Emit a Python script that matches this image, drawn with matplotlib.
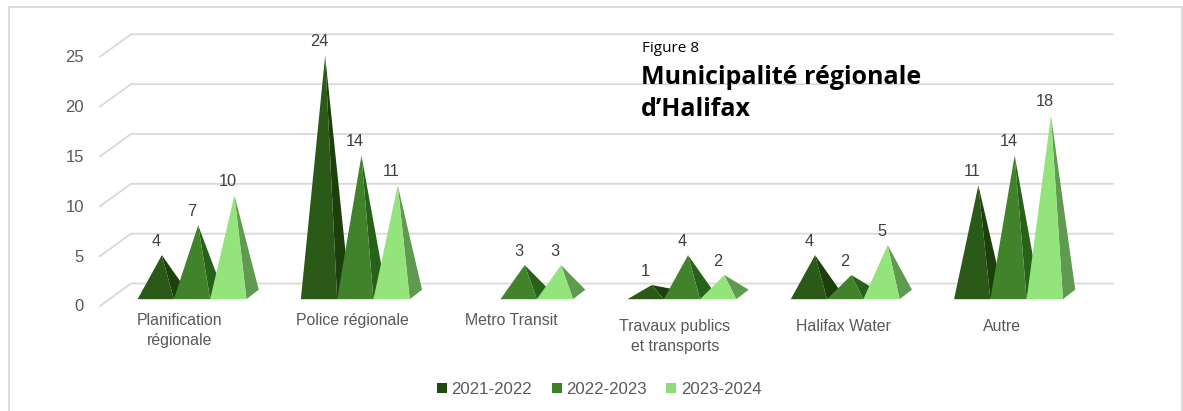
import numpy as np
import matplotlib.pyplot as plt
from matplotlib.patches import Polygon, Rectangle

plt.rcParams["font.family"] = ["Liberation Sans", "DejaVu Sans"]

# Donnees
categories = ["Planification\nrégionale", "Police régionale", "Metro Transit",
              "Travaux publics\net transports", "Halifax Water", "Autre"]
periodes = ["2021-2022", "2022-2023", "2023-2024"]
v2021 = [4, 24, np.nan, 1, 4, 11]
v2022 = [7, 14, 3, 4, 2, 14]
v2023 = [10, 11, 3, 2, 5, 18]
series = [v2021, v2022, v2023]
yticks = [0, 5, 10, 15, 20, 25]

# Couleurs : face avant, face droite, legende
front = ["#2b5a18", "#40832a", "#93e57b"]
side = ["#1c3f0c", "#28621a", "#5f9a50"]
legend_col = ["#1f4b10", "#3d8028", "#8fdc74"]

W, H = 1183, 411
fig = plt.figure(figsize=(W / 100, H / 100), dpi=100)
ax = fig.add_axes([0, 0, 1, 1])

# 1 categorie = 163.3 px, 1 unite = 9.97 px
sx, sy = 163.3, 9.97
x0, y0 = 192, 295
ax.set_xlim(-x0 / sx, (W - x0) / sx)
ax.set_ylim((y0 - H) / sy, y0 / sy)
ax.axis("off")

bar_w = 36.3 / sx
dx, dy = 12.3 / sx, 9.5 / sy
base = -4.2 / sy

# Cadre
fig.patches.append(Rectangle((8.5 / W, -0.01), (1181.5 - 8.5) / W, (H - 7.5) / H + 0.01,
                             transform=fig.transFigure, fill=False,
                             edgecolor="#d9d9d9", linewidth=1.3))

# Grille en perspective
wall_x0 = (100 - x0) / sx
wall_x1 = (131 - x0) / sx
wall_x2 = (1113 - x0) / sx
for t in yticks:
    ax.plot([wall_x0, wall_x1, wall_x2], [t - 1.1, t + 1.15, t + 1.15],
            color="#d9d9d9", lw=1.3, solid_joinstyle="miter", zorder=1)
    ax.annotate(str(t), (wall_x0, t - 1.1), xytext=(-16, -1), textcoords="offset pixels",
                ha="right", va="center", fontsize=12, color="#595959")

# Pyramides
for s, vals in enumerate(series):
    for i, v in enumerate(vals):
        if np.isnan(v):
            continue
        xc = i + (s - 1) * bar_w
        left, right = xc - bar_w / 2, xc + bar_w / 2
        apex = (xc + dx / 2, v)
        ax.add_patch(Polygon([(right, base), (right + dx, base + dy), apex],
                             closed=True, facecolor=side[s], edgecolor="none", zorder=2 + s))
        ax.add_patch(Polygon([(left, base), (right, base), apex],
                             closed=True, facecolor=front[s], edgecolor="none", zorder=2 + s))
        ax.annotate(str(v), (xc, v), xytext=(0, 14), textcoords="offset pixels",
                    ha="center", va="center", fontsize=11.8, color="#404040", zorder=10)

# Etiquettes de categories
label_dx = [-12, -3, -7.5, -7, -2, -6.5]
label_py = [320, 320, 320, 326, 326, 326]
for i, cat in enumerate(categories):
    ax.text(i + label_dx[i] / sx, (y0 - label_py[i]) / sy, cat.split("\n")[0],
            ha="center", va="center", fontsize=11.4, color="#595959")
    if "\n" in cat:
        ax.text(i + label_dx[i] / sx, (y0 - label_py[i] - 20) / sy, cat.split("\n")[1],
                ha="center", va="center", fontsize=11.4, color="#595959")

# Legende
for sq, tx, lab, c in zip([437, 552, 666], [451, 566, 681], periodes, legend_col):
    fig.patches.append(Rectangle((sq / W, 1 - 393 / H), 10 / W, 10 / H,
                                 transform=fig.transFigure, facecolor=c, edgecolor="none"))
    fig.text(tx / W, 1 - 389 / H, lab, ha="left", va="center", fontsize=12.1, color="#595959")

# Titre
fig.text(642 / W, 1 - 48.5 / H, "Figure 8", family="Open Sans", ha="left", va="center",
         fontsize=11, color="black")
fig.text(641 / W, 1 - 77 / H, "Municipalité régionale", family="Open Sans", fontweight="bold",
         ha="left", va="center", fontsize=18, color="black")
fig.text(641 / W, 1 - 110 / H, "d’Halifax", family="Open Sans", fontweight="bold",
         ha="left", va="center", fontsize=18, color="black")

fig.savefig("out.png", dpi=100)
